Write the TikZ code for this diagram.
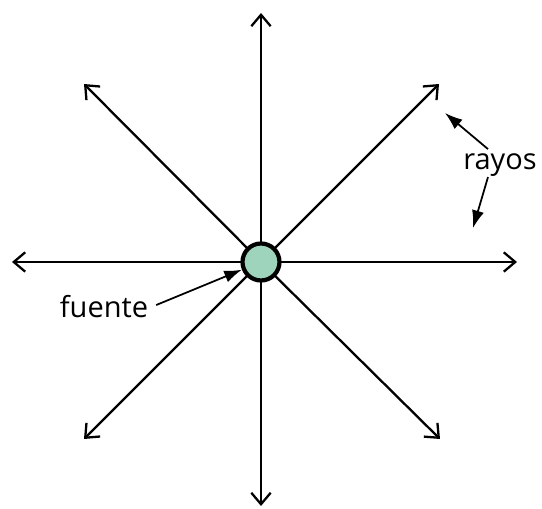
\documentclass[tikz,border=0pt]{standalone}
\usepackage{fontspec}
\setsansfont{Open Sans}
\usepackage{tikz}
\usetikzlibrary{arrows.meta,positioning,backgrounds}
\definecolor{srcgreen}{RGB}{157,212,187}

\begin{document}
\begin{tikzpicture}[
  x=0.02cm, y=-0.02cm,
  ray/.style={-{Straight Barb[length=6.5pt,width=11pt,line width=1.3pt]}, line width=1.3pt},
  pointer/.style={-{Latex[length=10pt,width=7pt]}, line width=1pt},
  source/.style={circle, draw, line width=2.4pt, fill=srcgreen, minimum size=0.74cm, inner sep=0pt},
  label/.style={font=\sffamily\fontsize{16.5}{20}\selectfont, inner sep=1pt}
]
\useasboundingbox (0,0) rectangle (542,509);

\node[source] (src) at (261,262) {};

\coordinate (n)  at (261, 13);
\coordinate (s)  at (261,506);
\coordinate (w)  at (12,262);
\coordinate (e)  at (517,262);
\coordinate (ne) at (439, 84);
\coordinate (nw) at (84, 84);
\coordinate (sw) at (84,439);
\coordinate (se) at (440,439);

% rays behind the source
\begin{scope}[on background layer]
\foreach \d in {n,s,w,e,ne,nw,sw,se}
  \draw[ray] (src.center) -- (\d);
\end{scope}

\node[label, anchor=base] (rayos) at (500,170) {rayos};
\node[label, anchor=base] (fuente) at (104,318) {fuente};

\coordinate (rtip1) at (445,113);
\coordinate (rtip2) at (473,228);
\draw[pointer] (rayos.north) ++(-12,-3) -- (rtip1);
\draw[pointer] (rayos.south) ++(-12,-2) -- (rtip2);
\draw[pointer] (fuente.east) ++(6,-2) -- (src.202);
\end{tikzpicture}
\end{document}
